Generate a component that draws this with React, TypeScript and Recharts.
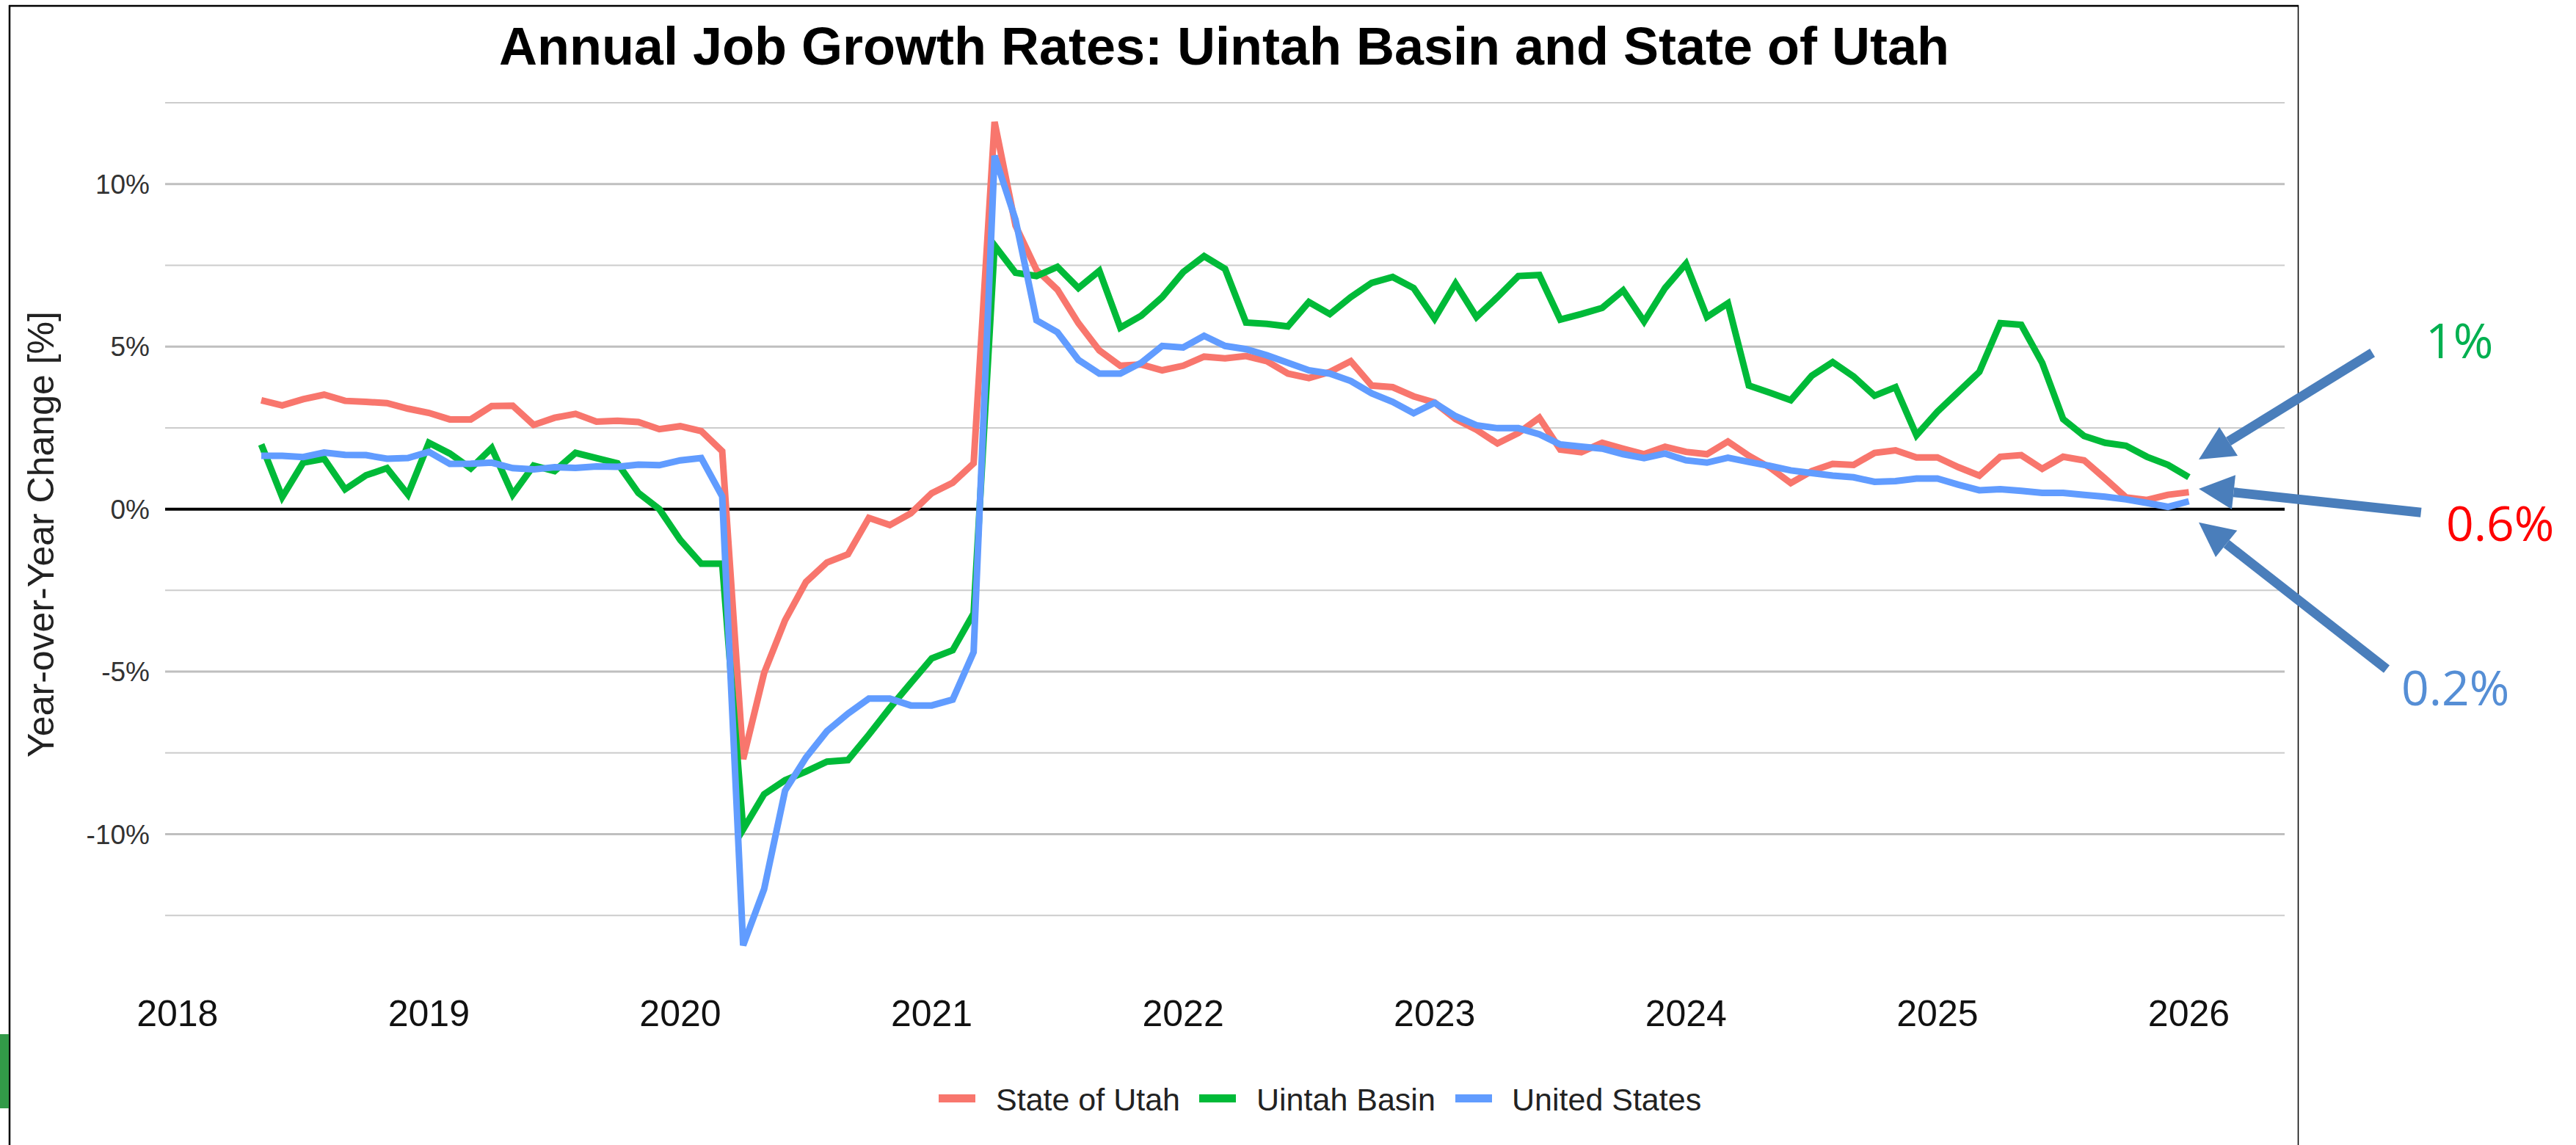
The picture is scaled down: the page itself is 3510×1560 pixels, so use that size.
import React from 'react';
import { LineChart, Line, XAxis, YAxis, ReferenceLine } from 'recharts';

// monthly series, May 2018 .. Jan 2026
const START_YEAR = 2018;
const START_MONTH = 5;

const stateOfUtah = [
  3.35, 3.19, 3.38, 3.52, 3.33, 3.30, 3.26, 3.09,
  2.96, 2.76, 2.76, 3.17, 3.18, 2.59, 2.81, 2.93, 2.69, 2.72, 2.68, 2.46,
  2.55, 2.40, 1.78, -7.69, -5.04, -3.42, -2.24, -1.64, -1.39, -0.27, -0.49, -0.13,
  0.49, 0.81, 1.41, 11.91, 8.72, 7.36, 6.75, 5.72, 4.88, 4.41, 4.45, 4.27,
  4.41, 4.69, 4.64, 4.71, 4.55, 4.17, 4.03, 4.22, 4.55, 3.80, 3.75, 3.47,
  3.28, 2.77, 2.44, 2.02, 2.34, 2.81, 1.83, 1.75, 2.04, 1.86, 1.69, 1.92,
  1.76, 1.69, 2.08, 1.64, 1.28, 0.80, 1.17, 1.39, 1.36, 1.73, 1.81, 1.59,
  1.59, 1.29, 1.03, 1.61, 1.66, 1.24, 1.61, 1.50, 0.94, 0.36, 0.28, 0.44,
  0.52,
];

const uintahBasin = [
  1.99, 0.37, 1.43, 1.55, 0.61, 1.04, 1.26, 0.45,
  2.04, 1.71, 1.25, 1.88, 0.45, 1.34, 1.17, 1.73, 1.57, 1.41, 0.50, 0.00,
  -0.95, -1.68, -1.68, -9.85, -8.77, -8.34, -8.07, -7.77, -7.72, -6.94, -6.12, -5.35,
  -4.59, -4.34, -3.21, 8.11, 7.27, 7.17, 7.45, 6.80, 7.33, 5.58, 5.95, 6.52,
  7.29, 7.78, 7.39, 5.74, 5.70, 5.62, 6.37, 6.00, 6.52, 6.96, 7.14, 6.80,
  5.86, 6.94, 5.91, 6.52, 7.17, 7.20, 5.83, 6.00, 6.19, 6.73, 5.77, 6.80,
  7.55, 5.91, 6.33, 3.80, 3.58, 3.35, 4.10, 4.52, 4.08, 3.49, 3.75, 2.27,
  3.00, 3.61, 4.22, 5.72, 5.67, 4.50, 2.77, 2.25, 2.04, 1.95, 1.61, 1.36,
  0.98,
];

const unitedStates = [
  1.64, 1.64, 1.60, 1.74, 1.67, 1.66, 1.55, 1.57,
  1.76, 1.39, 1.40, 1.43, 1.26, 1.22, 1.29, 1.27, 1.31, 1.30, 1.37, 1.35,
  1.50, 1.57, 0.39, -13.42, -11.69, -8.66, -7.64, -6.83, -6.29, -5.83, -5.83, -6.04,
  -6.04, -5.86, -4.40, 10.87, 8.90, 5.81, 5.44, 4.59, 4.17, 4.17, 4.50, 5.02,
  4.97, 5.33, 5.02, 4.92, 4.73, 4.50, 4.27, 4.17, 3.94, 3.56, 3.30, 2.95,
  3.27, 2.86, 2.58, 2.49, 2.49, 2.30, 1.99, 1.92, 1.86, 1.69, 1.57, 1.71,
  1.50, 1.43, 1.58, 1.45, 1.33, 1.19, 1.11, 1.03, 0.98, 0.84, 0.86, 0.94,
  0.94, 0.75, 0.58, 0.61, 0.56, 0.50, 0.50, 0.44, 0.38, 0.30, 0.19, 0.07,
  0.24,
];

const yearTicks = [2018, 2019, 2020, 2021, 2022, 2023, 2024, 2025, 2026];
const yTicks = [10, 5, 0, -5, -10];
const majorGrid = [10, 5, -5, -10];
const minorGrid = [12.5, 7.5, 2.5, -2.5, -7.5, -12.5];

const seriesNames = ['State of Utah', 'Uintah Basin', 'United States'];
const seriesColors = ['#F8766D', '#00BA38', '#619CFF'];

const latestLabels = ['1%', '0.6%', '0.2%'];
const latestColors = ['#00B050', '#FF0000', '#558ED5'];

// fractional year for each month
const data = stateOfUtah.map((v, i) => ({
  t: START_YEAR + (START_MONTH - 1 + i) / 12,
  utah: v,
  uintah: uintahBasin[i],
  us: unitedStates[i],
}));

const FONT = '"Liberation Sans", Arial, sans-serif';
const NOTE_FONT = '"Open Sans", "Noto Sans", sans-serif';
const ARROW = '#4A7EBB';

const Arrow = ({ tail, base, tip, c1, c2 }: { tail: number[]; base: number[]; tip: number[]; c1: number[]; c2: number[] }) => (
  <g>
    <line x1={tail[0]} y1={tail[1]} x2={base[0]} y2={base[1]} stroke={ARROW} strokeWidth={13} />
    <polygon points={`${tip[0]},${tip[1]} ${c1[0]},${c1[1]} ${c2[0]},${c2[1]}`} fill={ARROW} />
  </g>
);

const Overlay = () => {
  const legendX = [1279, 1634, 1983];
  const legendTextX = [1357, 1712, 2060];
  return (
    <svg width={3510} height={1560} style={{ position: 'absolute', left: 0, top: 0, pointerEvents: 'none' }}>
      {/* frame */}
      <line x1={12} y1={8} x2={3132} y2={8} stroke="#000" strokeWidth={2.5} />
      <line x1={13} y1={7} x2={13} y2={1560} stroke="#000" strokeWidth={2.5} />
      <line x1={3131.5} y1={7} x2={3131.5} y2={1560} stroke="#000" strokeWidth={1.5} />
      <rect x={0} y={1409} width={12} height={101} fill="#329A48" />

      <text x={1668} y={88} textAnchor="middle" fontFamily={FONT} fontWeight="bold" fontSize={72} fill="#000">
        Annual Job Growth Rates: Uintah Basin and State of Utah
      </text>
      <text
        x={73}
        y={728}
        transform="rotate(-90 73 728)"
        textAnchor="middle"
        fontFamily={FONT}
        fontSize={50}
        fill="#222"
      >
        Year-over-Year Change [%]
      </text>

      {seriesNames.map((name, i) => (
        <g key={name}>
          <rect x={legendX[i]} y={1491} width={50} height={11} fill={seriesColors[i]} />
          <text x={legendTextX[i]} y={1513} fontFamily={FONT} fontSize={43} fill="#222">
            {name}
          </text>
        </g>
      ))}

      <Arrow tail={[3232.6, 480.6]} base={[3036.5, 601.4]} tip={[2996, 626]} c1={[3024, 581.7]} c2={[3049, 621]} />
      <Arrow tail={[3298.8, 698.2]} base={[3043.5, 670.7]} tip={[2996, 666]} c1={[3046, 647.3]} c2={[3041, 694]} />
      <Arrow tail={[3252, 911.7]} base={[3033.7, 740.9]} tip={[2996, 711.7]} c1={[3048.3, 722.7]} c2={[3019, 759]} />

      <text x={3305} y={488} fontFamily={NOTE_FONT} fontSize={66} fill={latestColors[0]}>
        {latestLabels[0]}
      </text>
      <text x={3333} y={737} fontFamily={NOTE_FONT} fontSize={66} fill={latestColors[1]}>
        {latestLabels[1]}
      </text>
      <text x={3272} y={961} fontFamily={NOTE_FONT} fontSize={66} fill={latestColors[2]}>
        {latestLabels[2]}
      </text>
    </svg>
  );
};

export default function App() {
  return (
    <div style={{ position: 'absolute', left: 0, top: 0, width: 3510, height: 1560, background: '#fff' }}>
      <LineChart width={3510} height={1560} data={data} margin={{ top: 140, right: 397, bottom: 142, left: 0 }}>
        {minorGrid.map((v) => (
          <ReferenceLine key={`mn${v}`} y={v} stroke="#CCCCCC" strokeWidth={2} />
        ))}
        {majorGrid.map((v) => (
          <ReferenceLine key={`mj${v}`} y={v} stroke="#BFBFBF" strokeWidth={3} />
        ))}
        <ReferenceLine y={0} stroke="#000" strokeWidth={4} />
        <XAxis
          type="number"
          dataKey="t"
          domain={[2017.951, 2026.381]}
          ticks={yearTicks}
          axisLine={false}
          tickLine={false}
          tickSize={0}
          tickMargin={4}
          height={60}
          tick={{ fontSize: 50, fill: '#111', fontFamily: FONT }}
        />
        <YAxis
          type="number"
          domain={[-15, 12.5]}
          ticks={yTicks}
          tickFormatter={(v: number) => `${v}%`}
          axisLine={false}
          tickLine={false}
          tickSize={0}
          tickMargin={21}
          width={225}
          tick={{ fontSize: 37, fill: '#333', fontFamily: FONT }}
        />
        <Line type="linear" dataKey="utah" name={seriesNames[0]} stroke={seriesColors[0]} strokeWidth={9} dot={false} isAnimationActive={false} />
        <Line type="linear" dataKey="uintah" name={seriesNames[1]} stroke={seriesColors[1]} strokeWidth={9} dot={false} isAnimationActive={false} />
        <Line type="linear" dataKey="us" name={seriesNames[2]} stroke={seriesColors[2]} strokeWidth={9} dot={false} isAnimationActive={false} />
      </LineChart>
      <Overlay />
    </div>
  );
}
